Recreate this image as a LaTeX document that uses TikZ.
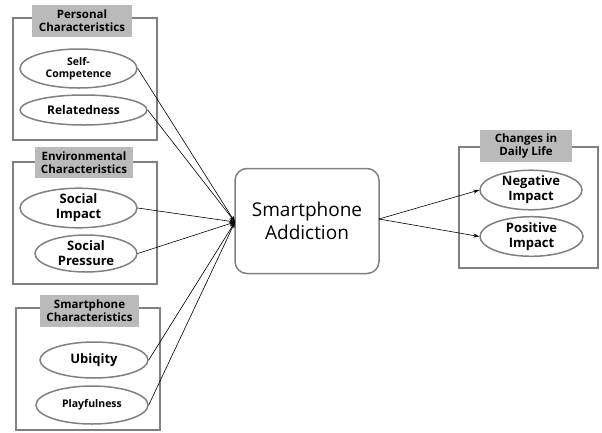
\documentclass[tikz,border=0pt]{standalone}
\usepackage{fontspec}
\setmainfont{Open Sans}
\usetikzlibrary{shapes.geometric,arrows.meta}
\begin{document}
\begin{tikzpicture}[x=1pt,y=-1pt,
  grp/.style={draw=black!50,line width=2.2pt},
  lbl/.style={fill=black!27,inner sep=0pt,font=\fontsize{11.5}{13}\selectfont\bfseries,align=center},
  ell/.style={ellipse,draw=black!50,line width=1.5pt,inner sep=0pt,font=\fontsize{13}{15}\selectfont\bfseries,align=center},
  arr/.style={-{Stealth[length=6pt,width=4pt]},line width=0.6pt}]
\useasboundingbox (0,0) rectangle (602,432);
% groups
\draw[grp] (13,18) rectangle (157,140);
\node[lbl,minimum width=100pt,minimum height=32pt] (l1) at (82,21) {Personal\\Characteristics};
\draw[grp] (13,162) rectangle (157,284);
\node[lbl,minimum width=98pt,minimum height=31pt] (l2) at (84,162.5) {Environmental\\Characteristics};
\draw[grp] (16,308) rectangle (160,430);
\node[lbl,minimum width=99pt,minimum height=32pt] (l3) at (89.5,311) {Smartphone\\Characteristics};
\draw[grp] (459,147) rectangle (598,268);
\node[lbl,minimum width=92pt,minimum height=32pt] (l4) at (526,146) {Changes in\\Daily Life};
% ellipses
\node[ell,minimum width=117pt,minimum height=39pt,font=\fontsize{10.5}{12.5}\selectfont\bfseries] (sc) at (78.5,68.5) {Self-\\Competence};
\node[ell,minimum width=127pt,minimum height=30pt,font=\fontsize{12}{14}\selectfont\bfseries] (re) at (83.5,110) {Relatedness};
\node[ell,minimum width=117pt,minimum height=38pt] (si) at (78.5,208) {Social\\Impact};
\node[ell,minimum width=102pt,minimum height=37pt] (sp) at (86,253.5) {Social\\Pressure};
\node[ell,minimum width=108pt,minimum height=36pt] (ub) at (94,360) {Ubiqity};
\node[ell,minimum width=112pt,minimum height=38pt,font=\fontsize{10.5}{12.5}\selectfont\bfseries] (pl) at (92,405) {Playfulness};
\node[ell,minimum width=102pt,minimum height=34pt] (ni) at (531,190) {Negative\\Impact};
\node[ell,minimum width=103pt,minimum height=33pt] (pi) at (531.5,236.5) {Positive\\Impact};
% center
\node[draw=black!50,line width=1.5pt,rounded corners=12pt,minimum width=144pt,minimum height=105pt,align=center,font=\fontsize{19}{23}\selectfont] (sa) at (307,221) {Smartphone\\Addiction};
\coordinate (in) at (235,222);
\coordinate (out) at (379,219);
% connectors
\draw[arr] (sc.east) -- (in);
\draw[arr] (re.east) -- (in);
\draw[arr] (si.east) -- (in);
\draw[arr] (sp.east) -- (in);
\draw[arr] (ub.east) -- (in);
\draw[arr] (pl.east) -- (in);
\draw[arr] (out) -- (ni.west);
\draw[arr] (out) -- (pi.west);
\end{tikzpicture}
\end{document}
